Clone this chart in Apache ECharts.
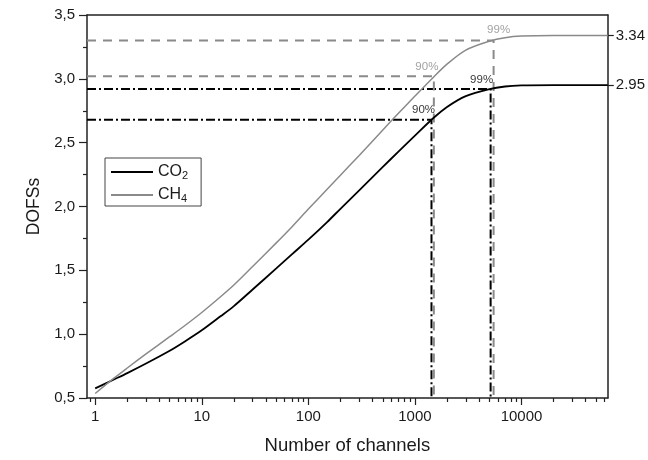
<!DOCTYPE html>
<html>
<head>
<meta charset="utf-8">
<title>DOFS vs number of channels</title>
<script src="https://cdn.jsdelivr.net/npm/echarts@6/dist/echarts.min.js"></script>
<style>
  html, body { margin: 0; padding: 0; background: #fff; }
  #chart { width: 648px; height: 460px; }
</style>
</head>
<body>
<div id="chart"></div>
<script>
// Number of spectral channels (log scale) and degrees of freedom for signal
const channels = [1, 1.5, 2, 3, 5, 7, 10, 15, 20, 30, 50, 70, 100, 150, 200, 300, 500, 700,
  1000, 1500, 2000, 3000, 5000, 7000, 10000, 20000, 64500];
const co2 = [0.575, 0.645, 0.695, 0.77, 0.87, 0.945, 1.03, 1.14, 1.22, 1.35, 1.515, 1.625,
  1.74, 1.878, 1.982, 2.127, 2.31, 2.43, 2.555, 2.695, 2.78, 2.865, 2.92, 2.94, 2.948, 2.95, 2.95];
const ch4 = [0.535, 0.655, 0.735, 0.845, 0.98, 1.07, 1.17, 1.293, 1.385, 1.53, 1.715, 1.84,
  1.98, 2.135, 2.245, 2.40, 2.60, 2.73, 2.865, 3.015, 3.115, 3.225, 3.295, 3.322, 3.335, 3.34, 3.34];

// 90 % and 99 % of the saturated DOFS
const markLabels = ['90%', '99%'];
const co2MarkN = [1430, 5130];
const co2MarkV = [2.68, 2.92];
const ch4MarkN = [1505, 5470];
const ch4MarkV = [3.02, 3.30];

// saturation values printed on the right axis
const plateau = [2.95, 3.34];

// axis ticks
const xMajor = [1, 10, 100, 1000, 10000];
const xMinor = [0.9, 2, 3, 4, 5, 6, 7, 8, 9, 20, 30, 40, 50, 60, 70, 80, 90,
  200, 300, 400, 500, 600, 700, 800, 900, 2000, 3000, 4000, 5000, 6000, 7000, 8000, 9000,
  20000, 30000, 40000, 50000, 60000];

const X_MIN = 0.838, X_MAX = 64500, Y_MIN = 0.5, Y_MAX = 3.5;
const FONT = 'Liberation Sans, Arial, sans-serif';
const GREY = '#8a8a8a';
const INK = '#1a1a1a';

const zip = (xs, ys) => xs.map((x, i) => [x, ys[i]]);

// guide line: from the left axis to the curve point, then down to the bottom axis
function guide(name, n, v, color, dash) {
  return {
    name: name,
    type: 'line',
    symbol: 'none',
    silent: true,
    z: 1,
    lineStyle: { color: color, width: 2, type: dash },
    data: [[X_MIN, v], [n, v], [n, Y_MIN]]
  };
}

// percentage tag placed just above a curve point
function tag(name, n, v, text, color, offset) {
  return {
    name: name,
    type: 'scatter',
    silent: true,
    z: 4,
    symbol: 'circle',
    symbolSize: 1,
    itemStyle: { color: 'rgba(0,0,0,0)' },
    label: {
      show: true, formatter: text, position: 'top', distance: 3, offset: offset,
      color: color, fontSize: 11.5, fontFamily: FONT
    },
    data: [[n, v]]
  };
}

const chart = echarts.init(document.getElementById('chart'), null, { renderer: 'canvas' });

const axisLineStyle = { color: '#222', width: 1.5 };
const tickStyle = { color: '#222', width: 1.2 };

chart.setOption({
  animation: false,
  backgroundColor: '#fff',
  grid: { left: 87, right: 39, top: 15, bottom: 59, show: false },
  legend: {
    data: ['CO2', 'CH4'],
    orient: 'vertical',
    left: 105,
    top: 158,
    borderColor: '#444',
    borderWidth: 1,
    padding: [5, 13, 2, 6],
    itemGap: 5,
    itemWidth: 42,
    itemHeight: 2,
    icon: 'rect',
    formatter: (name) => name === 'CO2' ? '{n|CO}{s|2}' : '{n|CH}{s|4}',
    textStyle: {
      fontSize: 16, color: INK, fontFamily: FONT, lineHeight: 18,
      rich: {
        n: { fontSize: 16, fontFamily: FONT, color: INK, lineHeight: 18 },
        s: { fontSize: 11, fontFamily: FONT, color: INK, verticalAlign: 'bottom' }
      }
    }
  },
  xAxis: [
    {
      type: 'log', logBase: 10, min: X_MIN, max: X_MAX, position: 'bottom',
      name: 'Number of channels', nameLocation: 'middle', nameGap: 38,
      nameTextStyle: { fontSize: 18.5, color: INK, fontFamily: FONT },
      axisLine: { show: true, lineStyle: axisLineStyle },
      axisTick: { show: true, inside: false, length: 7, customValues: xMajor, lineStyle: tickStyle },
      axisLabel: { customValues: xMajor, margin: 11, fontSize: 15, color: INK, fontFamily: FONT,
        formatter: (v) => String(Math.round(v)) },
      splitLine: { show: false }
    },
    {
      type: 'log', logBase: 10, min: X_MIN, max: X_MAX, position: 'bottom',
      axisLine: { show: false },
      axisTick: { show: true, inside: false, length: 4, customValues: xMinor, lineStyle: tickStyle },
      axisLabel: { show: false },
      splitLine: { show: false }
    },
    {
      type: 'log', logBase: 10, min: X_MIN, max: X_MAX, position: 'top',
      axisLine: { show: true, lineStyle: axisLineStyle },
      axisTick: { show: false },
      axisLabel: { show: false },
      splitLine: { show: false }
    }
  ],
  yAxis: [
    {
      type: 'value', min: Y_MIN, max: Y_MAX, interval: 0.5, position: 'left',
      name: 'DOFSs', nameLocation: 'middle', nameGap: 44,
      nameTextStyle: { fontSize: 17.5, color: INK, fontFamily: FONT },
      axisLine: { show: true, lineStyle: axisLineStyle },
      axisTick: { show: true, inside: false, length: 8, lineStyle: tickStyle },
      minorTick: { show: true, splitNumber: 2, length: 4, lineStyle: tickStyle },
      axisLabel: { margin: 12, fontSize: 15, color: INK, fontFamily: FONT,
        formatter: (v) => v.toFixed(1).replace('.', ',') },
      splitLine: { show: false }
    },
    {
      type: 'value', min: Y_MIN, max: Y_MAX, position: 'right',
      axisLine: { show: true, lineStyle: axisLineStyle },
      axisTick: { show: true, inside: false, length: 6, customValues: plateau, lineStyle: tickStyle },
      axisLabel: { customValues: plateau, margin: 8, fontSize: 15, color: INK, fontFamily: FONT,
        formatter: (v) => v.toFixed(2) },
      splitLine: { show: false }
    }
  ],
  series: [
    guide('co2-90', co2MarkN[0], co2MarkV[0], '#000', [9, 3, 2, 3]),
    guide('co2-99', co2MarkN[1], co2MarkV[1], '#000', [9, 3, 2, 3]),
    guide('ch4-90', ch4MarkN[0], ch4MarkV[0], GREY, [9, 7]),
    guide('ch4-99', ch4MarkN[1], ch4MarkV[1], GREY, [9, 7]),
    {
      name: 'CO2', type: 'line', symbol: 'none', smooth: 0.3, z: 3,
      lineStyle: { color: '#000', width: 1.8 }, itemStyle: { color: '#000' },
      data: zip(channels, co2)
    },
    {
      name: 'CH4', type: 'line', symbol: 'none', smooth: 0.3, z: 3,
      lineStyle: { color: GREY, width: 1.5 }, itemStyle: { color: GREY },
      data: zip(channels, ch4)
    },
    tag('co2-90-tag', co2MarkN[0], co2MarkV[0], markLabels[0], '#000', [-8, 0]),
    tag('co2-99-tag', co2MarkN[1], co2MarkV[1], markLabels[1], '#000', [-9, 0]),
    tag('ch4-90-tag', ch4MarkN[0], ch4MarkV[0], markLabels[0], GREY, [-7, 0]),
    tag('ch4-99-tag', ch4MarkN[1], ch4MarkV[1], markLabels[1], GREY, [5, -1])
  ]
});
</script>
</body>
</html>
